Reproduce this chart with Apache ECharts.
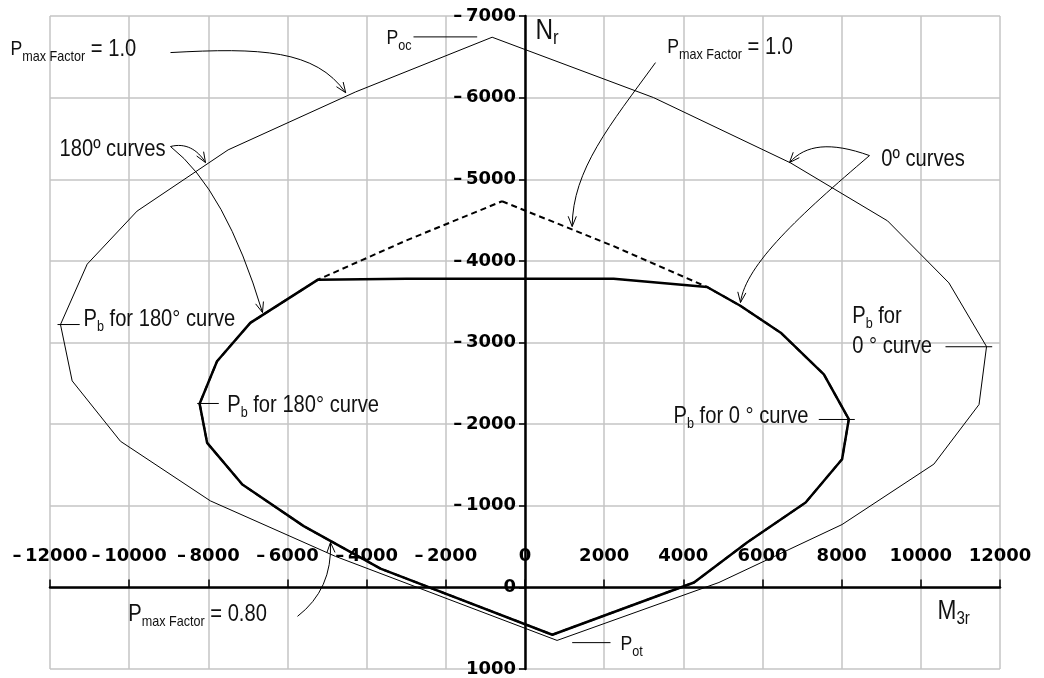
<!DOCTYPE html>
<html>
<head>
<meta charset="utf-8">
<title>Interaction diagram M3r – Nr</title>
<script src="https://cdn.jsdelivr.net/npm/echarts@6/dist/echarts.min.js"></script>
<style>
  html, body { margin: 0; padding: 0; background: #fff; }
  #chart { width: 1044px; height: 678px; }
</style>
</head>
<body>
<div id="chart"></div>
<script>
// Axis ranges (moment M3r horizontally, axial force Nr vertically, compression negative, drawn upward)
const mRange = { min: -12000, max: 12000, step: 2000 };
const nRange = { min: -7000, max: 1000, step: 1000 };

// Nominal interaction curve, Pmax factor 1.0 (0° side then 180° side, closed)
const nominalM = [-830, 3250, 6710, 9160, 10710, 11660, 11470, 10330, 8010, 4900, 810,
                  -4790, -7950, -10220, -11440, -11735, -11060, -9800, -7500, -4280, -830];
const nominalN = [-6740, -6000, -5200, -4490, -3730, -2950, -2240, -1510, -770, -60, 650,
                  -380, -1060, -1790, -2530, -3220, -3960, -4610, -5360, -6070, -6740];

// Reduced curve, Pmax factor 1.0 (dashed)
const reducedM = [-580, 2240, 4600, 5440, 6460, 7550, 8180, 8010, 7090, 5610, 4270, 690,
                  -3650, -5590, -7140, -8030, -8220, -7780, -6940, -5230, -3000, -580];
const reducedN = [-4730, -4180, -3680, -3450, -3120, -2610, -2060, -1570, -1040, -550, -60, 580,
                  -230, -750, -1260, -1770, -2250, -2770, -3240, -3770, -4250, -4730];

// Reduced curve, Pmax factor 0.80 (solid, flat top)
const cappedM = [-580, 2240, 4600, 5440, 6460, 7550, 8180, 8010, 7090, 5610, 4270, 690,
                 -3650, -5590, -7140, -8030, -8220, -7780, -6940, -5230, -3000, -580];
const cappedN = [-3780, -3780, -3680, -3450, -3120, -2610, -2060, -1570, -1040, -550, -60, 580,
                 -230, -750, -1260, -1770, -2250, -2770, -3240, -3770, -3780, -3780];

// Annotation texts, anchored (left, vertical middle) at data coordinates
const notes = [
  { text: '{a21|P}{s|max Factor}{e| = 1.0}', at: [-12998, -6588] },
  { text: '{a21|P}{s|oc}', at: [-3499, -6723] },
  { text: '{a21|P}{s|max Factor}{e| = 1.0}', at: [3592, -6613] },
  { text: '{a|0º curves}', at: [8999, -5241] },
  { text: '{a|180º curves}', at: [-11760, -5364] },
  { text: '{a|P}{s|b}{a| for 180° curve}', at: [-11154, -3282] },
  { text: '{a|P}{s|b}{a| for 180° curve}', at: [-7523, -2229] },
  { text: '{a|P}{s|b}{a| for 0 ° curve}', at: [3752, -2098] },
  { text: '{a|P}{s|b}{a| for}', at: [8266, -3315] },
  { text: '{a|0 ° curve}', at: [8266, -2948] },
  { text: '{a|P}{s|max Factor}{a| = 0.80}', at: [-10024, 331] },
  { text: '{a21|P}{s|ot}', at: [2413, 698] },
  { text: '{n|N}{ns|r}', at: [265, -6821] },
  { text: '{m|M}{ms|3r}', at: [10421, 294] }
];

// Short leader lines from labels to curve points
const leaders = [
  [[-2817, -6744], [-1208, -6744]],
  [[-11810, -3220], [-11250, -3220]],
  [[-8281, -2253], [-7736, -2253]],
  [[7422, -2057], [8332, -2057]],
  [[10623, -2948], [11803, -2948]],
  [[1192, 677], [2160, 677]]
];

// Curved pointer arrows: start, control point(s), tip
const arrows = [
  { from: [-8956, -6552], c1: [-6682, -6613], c2: [-5293, -6588], to: [-4530, -6060] },
  { from: [3297, -6429], c1: [2160, -5670], c2: [1200, -5119], to: [1192, -4421] },
  { from: [8703, -5290], c1: [7718, -5462], c2: [7086, -5425], to: [6682, -5204] },
  { from: [8703, -5290], c1: [6960, -4568], c2: [5571, -3956], to: [5444, -3490] },
  { from: [-8956, -5401], c1: [-8577, -5449], c2: [-8274, -5364], to: [-8072, -5205] },
  { from: [-8956, -5401], c1: [-7566, -4875], to: [-6632, -3368] },
  { from: [-5747, 355], c1: [-4863, 24], to: [-4914, -551] }
];

const zip = (a, b) => a.map((v, i) => [v, b[i]]);
const fmt = v => (v < 0 ? '\u2013\u2009' + Math.abs(v) : String(v));

// Plot box in pixels; both axes cross at the origin inside it
const box = { left: 50, right: 44, top: 16, bottom: 9, width: 950, height: 653 };
const xAxisShift = -box.height * (nRange.max - 0) / (nRange.max - nRange.min);
const yAxisShift = -box.width * (0 - mRange.min) / (mRange.max - mRange.min);

const tickFont = { color: '#000', fontFamily: 'DejaVu Sans', fontWeight: 'bold', fontSize: 18 };
const gridLine = { show: true, lineStyle: { color: '#c4c4c4', width: 1.5 } };

const chart = echarts.init(document.getElementById('chart'), null, { renderer: 'canvas' });

chart.setOption({
  animation: false,
  backgroundColor: '#ffffff',
  grid: { left: box.left, right: box.right, top: box.top, bottom: box.bottom, outerBoundsMode: 'none' },
  xAxis: {
    type: 'value', min: mRange.min, max: mRange.max, interval: mRange.step,
    position: 'bottom', offset: xAxisShift,
    axisLine: { show: true, onZero: false, lineStyle: { color: '#000', width: 2.5 } },
    axisTick: { show: true, inside: true, length: 8, lineStyle: { color: '#000', width: 1.5 } },
    axisLabel: Object.assign({ inside: true, margin: 22, formatter: fmt }, tickFont),
    splitLine: gridLine
  },
  yAxis: {
    type: 'value', inverse: true, min: nRange.min, max: nRange.max, interval: nRange.step,
    position: 'left', offset: yAxisShift,
    axisLine: { show: true, onZero: false, lineStyle: { color: '#000', width: 2.5 } },
    axisTick: { show: true, length: 6, lineStyle: { color: '#000', width: 1.5 } },
    axisLabel: Object.assign({ margin: 9, formatter: fmt }, tickFont),
    splitLine: gridLine
  },
  series: [
    { type: 'line', name: 'Pmax 1.0 nominal', data: zip(nominalM, nominalN), symbol: 'none',
      lineStyle: { color: '#000', width: 1 }, z: 3 },
    { type: 'line', name: 'Pmax 1.0 reduced', data: zip(reducedM, reducedN), symbol: 'none',
      lineStyle: { color: '#000', width: 2, type: [6, 4] }, z: 3 },
    { type: 'line', name: 'Pmax 0.80 reduced', data: zip(cappedM, cappedN), symbol: 'none',
      lineStyle: { color: '#000', width: 2.5 }, z: 4 }
  ]
});

// Annotation layer placed through the axes' own coordinate conversion
const toPx = p => chart.convertToPixel({ xAxisIndex: 0, yAxisIndex: 0 }, p);
const annFont = "'Liberation Sans', Arial, sans-serif";
const narrow = 0.84;
const ink = '#111';
const rich = {
  a:   { fontFamily: annFont, fontSize: 24, lineHeight: 30, fill: ink },
  a21: { fontFamily: annFont, fontSize: 21, lineHeight: 30, fill: ink },
  e:   { fontFamily: annFont, fontSize: 24, lineHeight: 30, fill: ink },
  s:   { fontFamily: annFont, fontSize: 15, lineHeight: 17, verticalAlign: 'bottom', fill: ink },
  n:   { fontFamily: annFont, fontSize: 29, lineHeight: 36, fill: ink },
  ns:  { fontFamily: annFont, fontSize: 20, lineHeight: 20, verticalAlign: 'bottom', fill: ink },
  m:   { fontFamily: annFont, fontSize: 27, lineHeight: 34, fill: ink },
  ms:  { fontFamily: annFont, fontSize: 18, lineHeight: 18, verticalAlign: 'bottom', fill: ink }
};

const elements = [];
notes.forEach(n => {
  const p = toPx(n.at);
  elements.push({ type: 'text', x: p[0], y: p[1], scaleX: narrow, z: 10,
    style: { text: n.text, rich: rich, align: 'left', verticalAlign: 'middle' } });
});
leaders.forEach(l => {
  const a = toPx(l[0]), b = toPx(l[1]);
  elements.push({ type: 'line', z: 10, shape: { x1: a[0], y1: a[1], x2: b[0], y2: b[1] },
    style: { stroke: '#000', lineWidth: 1 } });
});
arrows.forEach(ar => {
  const s = toPx(ar.from), e = toPx(ar.to), c1 = toPx(ar.c1), c2 = ar.c2 ? toPx(ar.c2) : null;
  const shape = { x1: s[0], y1: s[1], x2: e[0], y2: e[1], cpx1: c1[0], cpy1: c1[1] };
  if (c2) { shape.cpx2 = c2[0]; shape.cpy2 = c2[1]; }
  const last = c2 || c1;
  const ang = Math.atan2(e[1] - last[1], e[0] - last[0]);
  const len = 11, spread = 0.38;
  const h1 = [e[0] - len * Math.cos(ang - spread), e[1] - len * Math.sin(ang - spread)];
  const h2 = [e[0] - len * Math.cos(ang + spread), e[1] - len * Math.sin(ang + spread)];
  elements.push({ type: 'bezierCurve', z: 10, shape: shape,
    style: { stroke: '#000', fill: null, lineWidth: 1 } });
  elements.push({ type: 'polyline', z: 10, shape: { points: [h1, e, h2] },
    style: { stroke: '#000', fill: null, lineWidth: 1 } });
});

chart.setOption({ graphic: { elements: elements } });
</script>
</body>
</html>
